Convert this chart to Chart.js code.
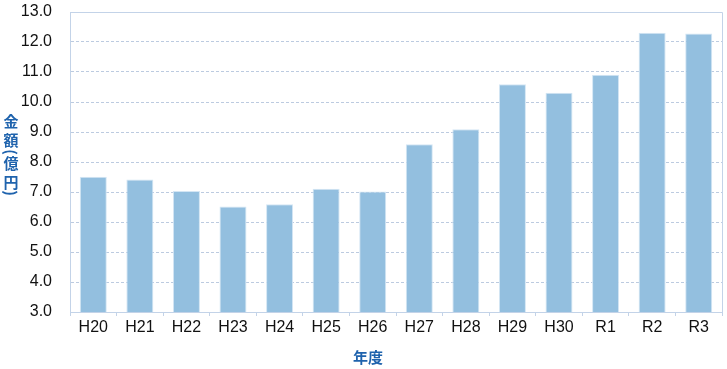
<!DOCTYPE html>
<html>
<head>
<meta charset="utf-8">
<script src="https://cdn.jsdelivr.net/npm/chart.js@4.4.0/dist/chart.umd.min.js"></script>
<style>
    html, body { margin: 0; padding: 0; background: #fff; }
    #wrap { width: 727px; height: 369px; }
</style>
</head>
<body>
<div id="wrap"><canvas id="myChart"></canvas></div>
<script>
const categories = ['H20', 'H21', 'H22', 'H23', 'H24', 'H25', 'H26', 'H27', 'H28', 'H29', 'H30', 'R1', 'R2', 'R3'];
const amounts = [7.51, 7.42, 7.03, 6.52, 6.59, 7.11, 7.02, 8.59, 9.09, 10.59, 10.31, 10.91, 12.31, 12.28];
const yTitleChars = ['金', '額', '(', '億', '円', ')'];
const xTitle = '年度';

const tickFont = {family: "'Liberation Sans Narrow', 'Arial Narrow', 'Liberation Sans', sans-serif", size: 16};
const titleColor = '#1f63ad';

// plot frame (top / right lines) and the axis titles
const framePlugin = {
    id: 'frame',
    afterDraw(chart) {
        const {ctx, chartArea} = chart;
        ctx.save();
        ctx.strokeStyle = '#c3d3e8';
        ctx.lineWidth = 1;
        ctx.beginPath();
        ctx.moveTo(chartArea.left, chartArea.top + 0.5);
        ctx.lineTo(chartArea.right + 0.5, chartArea.top + 0.5);
        ctx.lineTo(chartArea.right + 0.5, chartArea.bottom);
        ctx.stroke();

        ctx.fillStyle = titleColor;
        ctx.font = "bold 15px 'Noto Sans CJK JP', sans-serif";
        ctx.textAlign = 'center';
        ctx.textBaseline = 'middle';
        const ys = [121, 140, 152, 163, 182, 193];
        yTitleChars.forEach((ch, i) => {
            if (ch === '(' || ch === ')') {
                ctx.save();
                ctx.translate(11, ys[i]);
                ctx.rotate(Math.PI / 2);
                ctx.fillText(ch, 0, 0);
                ctx.restore();
            } else {
                ctx.fillText(ch, 11, ys[i]);
            }
        });

        ctx.font = "bold 15px 'Noto Sans CJK JP', sans-serif";
        ctx.fillText(xTitle, 368, 357);
        ctx.restore();
    }
};

const data = {
    labels: categories,
    datasets: [
        {
            data: amounts,
            backgroundColor: '#93bfdf',
            borderColor: '#d4e6f4',
            borderWidth: 1,
            barPercentage: 0.58,
            categoryPercentage: 1
        }
    ]
};

const options = {
    responsive: true,
    maintainAspectRatio: false,
    animation: false,
    layout: {
        padding: {top: 12, right: 5, left: 0, bottom: 0}
    },
    plugins: {
        legend: {display: false},
        tooltip: {enabled: false}
    },
    scales: {
        x: {
            offset: true,
            grid: {
                drawOnChartArea: false,
                drawTicks: true,
                tickLength: 4,
                color: '#c3d3e8'
            },
            border: {color: '#c3d3e8'},
            ticks: {
                color: '#111',
                font: tickFont,
                padding: 2,
                maxRotation: 0,
                autoSkip: false
            },
            afterFit: (scale) => {
                scale.height = 57;
                scale.paddingLeft = 0;
                scale.paddingRight = 0;
            }
        },
        y: {
            min: 3,
            max: 13,
            grid: {
                drawTicks: false,
                color: '#bccbe0'
            },
            border: {color: '#c3d3e8', dash: [3, 2]},
            ticks: {
                stepSize: 1,
                color: '#111',
                font: tickFont,
                padding: 18,
                callback: (val) => val.toFixed(1)
            },
            afterFit: (scale) => {
                scale.width = 70;
                scale.paddingTop = 0;
                scale.paddingBottom = 0;
            }
        }
    }
};

new Chart(document.getElementById('myChart'), {
    type: 'bar',
    data: data,
    options: options,
    plugins: [framePlugin]
});
</script>
</body>
</html>
